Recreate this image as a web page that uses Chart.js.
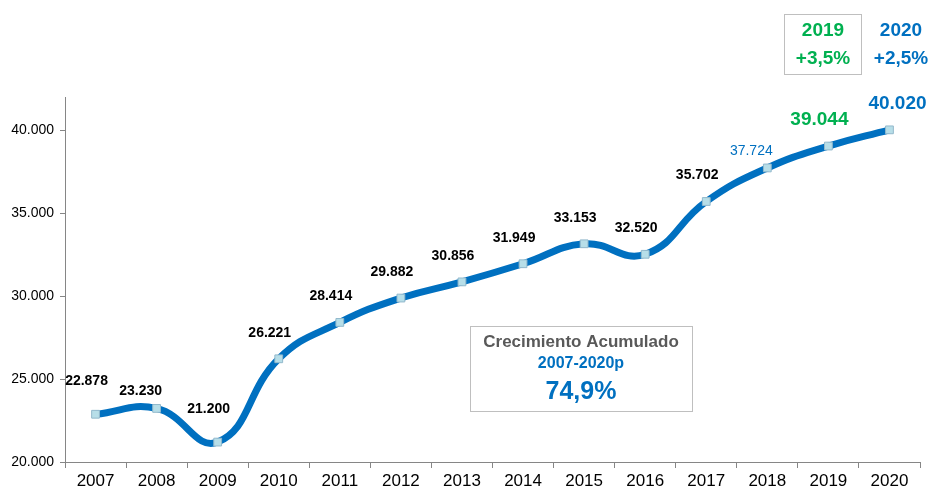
<!DOCTYPE html>
<html>
<head>
<meta charset="utf-8">
<script src="https://cdn.jsdelivr.net/npm/chart.js@4/dist/chart.umd.min.js"></script>
<style>
  html, body { margin: 0; padding: 0; background: #fff; }
  #wrap { width: 931px; height: 491px; }
</style>
</head>
<body>
<div id="wrap"><canvas id="chart" width="931" height="491"></canvas></div>
<script>
const years = ["2007","2008","2009","2010","2011","2012","2013","2014","2015","2016","2017","2018","2019","2020"];
const values = [22878, 23230, 21200, 26221, 28414, 29882, 30856, 31949, 33153, 32520, 35702, 37724, 39044, 40020];
const yTicks = [20000, 25000, 30000, 35000, 40000];

const blue = "#0070C0";
const green = "#00B050";
const axisGrey = "#868686";
const font = "'Liberation Sans', Arial, sans-serif";

// thousands with a dot, as in the original
function fmt(v) {
  return String(v).replace(/\B(?=(\d{3})+(?!\d))/g, ".");
}

// per-point label look (2018-2020 highlighted)
function labelStyle(i) {
  if (years[i] === "2018") return { color: blue, font: "normal 14px " + font };
  if (years[i] === "2019") return { color: green, font: "bold 19px " + font };
  if (years[i] === "2020") return { color: blue, font: "bold 19px " + font };
  return { color: "#000", font: "bold 14px " + font };
}

const valueLabels = {
  id: "valueLabels",
  afterDatasetsDraw(chart) {
    const c = chart.ctx;
    const meta = chart.getDatasetMeta(0);
    c.save();
    c.textAlign = "center";
    c.textBaseline = "middle";
    meta.data.forEach((pt, i) => {
      const st = labelStyle(i);
      c.fillStyle = st.color;
      c.font = st.font;
      let dx = -9, dy = -26;
      if (years[i] === "2020") dx = 8;
      if (years[i] === "2008" || years[i] === "2018") { dx = -16; dy = -17; }
      if (years[i] === "2007" || years[i] === "2009") dy = -33;
      c.fillText(fmt(values[i]), pt.x + dx, pt.y + dy);
    });
    c.restore();
  }
};

const notes = {
  id: "notes",
  afterDraw(chart) {
    const c = chart.ctx;
    c.save();
    c.textAlign = "center";
    c.textBaseline = "middle";

    // 2019 box
    c.strokeStyle = "#BFBFBF";
    c.lineWidth = 1;
    c.strokeRect(784.5, 14.5, 77, 60);
    c.fillStyle = green;
    c.font = "bold 19px " + font;
    c.fillText("2019", 823, 31);
    c.fillText("+3,5%", 823, 59);

    // 2020 text
    c.fillStyle = blue;
    c.fillText("2020", 901, 31);
    c.fillText("+2,5%", 901, 59);

    // cumulative growth box
    c.strokeStyle = "#BFBFBF";
    c.strokeRect(470.5, 326.5, 222, 85);
    c.fillStyle = "#595959";
    c.font = "bold 17px " + font;
    c.fillText("Crecimiento Acumulado", 581, 342);
    c.fillStyle = blue;
    c.font = "bold 16px " + font;
    c.fillText("2007-2020p", 581, 364);
    c.font = "bold 25px " + font;
    c.fillText("74,9%", 581, 392);
    c.restore();
  }
};

new Chart(document.getElementById("chart"), {
  type: "line",
  data: {
    labels: years,
    datasets: [{
      data: values,
      borderColor: blue,
      borderWidth: 7,
      tension: 0.45,
      pointStyle: "rect",
      pointRadius: 5.5,
      pointBackgroundColor: "#B7DEE8",
      pointBorderColor: "#93B9CC",
      pointBorderWidth: 1
    }]
  },
  options: {
    responsive: false,
    animation: false,
    events: [],
    layout: { padding: { top: 97, right: 11, left: 0, bottom: 0 } },
    plugins: { legend: { display: false }, tooltip: { enabled: false } },
    scales: {
      x: {
        offset: true,
        afterFit: s => { s.height = 29; },
        border: { color: axisGrey, width: 1 },
        grid: { offset: true, drawOnChartArea: false, drawTicks: true, tickLength: 6, color: axisGrey },
        ticks: { color: "#000", font: { family: font, size: 17 }, padding: 3, maxRotation: 0 }
      },
      y: {
        min: 20000,
        max: 42000,
        afterBuildTicks: s => { s.ticks = yTicks.map(v => ({ value: v })); },
        afterFit: s => { s.width = 65; },
        border: { color: axisGrey, width: 1 },
        grid: { drawOnChartArea: false, drawTicks: true, tickLength: 5, color: axisGrey },
        ticks: { color: "#000", font: { family: font, size: 14 }, padding: 6, callback: v => fmt(v) }
      }
    }
  },
  plugins: [valueLabels, notes]
});
</script>
</body>
</html>
